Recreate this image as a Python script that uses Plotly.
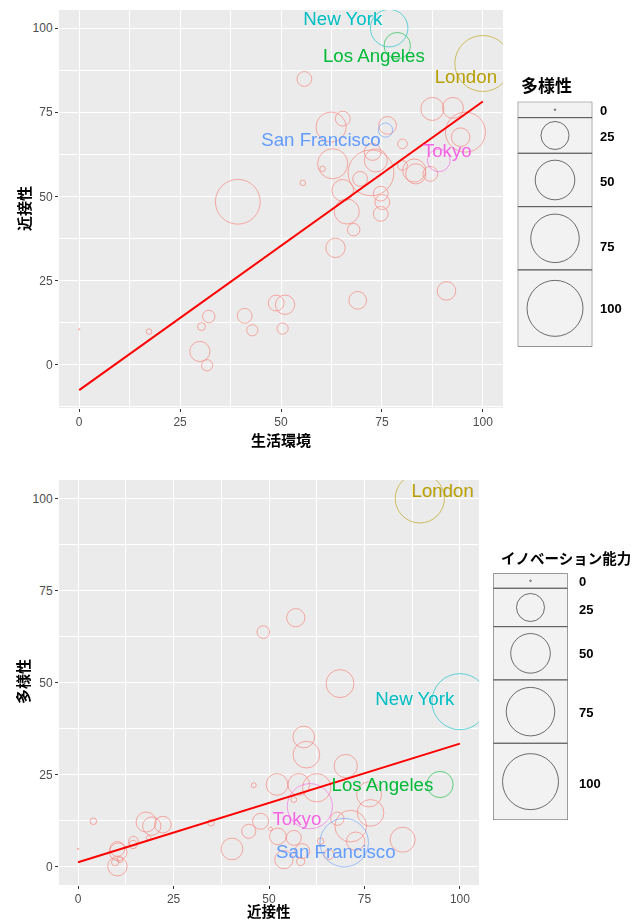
import plotly.graph_objects as go

W, H = 640, 921
PAGE_MARGIN = 8          # browser body margin around the plot div
FW, FH = W - PAGE_MARGIN, H - PAGE_MARGIN

# ---------------- data ----------------
cities = ["London", "Los Angeles", "New York", "San Francisco", "Tokyo"]
city_env = [100, 78.8, 76.8, 75.9, 89.1]        # 生活環境
city_prox = [89.5, 94.8, 100, 69.7, 60.7]       # 近接性
city_div = [100, 22.3, 44.8, 6.5, 16.4]         # 多様性
city_inn = [77, 22, 100, 75, 65]                # イノベーション能力

# other cities, top panel (生活環境 vs 近接性, size 多様性)
top_env = [0, 17.3, 32.1, 30.3, 29.9, 31.7, 41.0, 42.9, 48.8, 51.0, 50.4,
           63.5, 69.0, 91.0, 68.0, 66.3, 74.7, 75.1, 74.7, 39.3, 62.4,
           65.3, 76.4, 80.1, 87.5, 92.6, 94.5, 95.7, 62.8, 60.3, 55.4,
           72.7, 73.5, 72.3, 65.3, 69.6, 80.1, 83.0, 83.4, 87.0, 55.8]
top_prox = [10.5, 9.8, 14.3, 11.3, 3.9, -0.2, 14.5, 10.2, 18.3, 17.8, 10.7,
            34.7, 19.1, 21.9, 40.1, 45.5, 44.8, 48.3, 50.8, 48.4, 70.6,
            73.1, 71.1, 65.6, 76.0, 76.3, 67.6, 69.1, 59.7, 58.2, 54.0,
            63.2, 60.7, 57.0, 51.8, 55.2, 59.2, 57.7, 56.7, 56.7, 84.9]
top_div = [0, 1, 5, 2, 13, 4, 7, 4, 8, 12, 4,
           12, 10, 11, 5, 20, 7, 7, 7, 64, 29,
           7, 10, 3, 17, 14, 11, 51, 29, 1, 1,
           9, 17, 67, 15, 7, 3, 17, 13, 7, 7]

# other cities, bottom panel (近接性 vs 多様性, size イノベーション能力)
bot_prox = [0, 4.0, 10.3, 10.5, 10.3, 9.7, 11.0, 14.5, 14.4, 17.8, 19.3,
            22.2, 18.5, 34.8, 40.3, 44.7, 46.0, 68.6, 59.1, 59.8, 70.1,
            52.1, 57.8, 62.5, 56.5, 76.2, 76.6, 71.4, 67.9, 47.8, 50.4,
            52.3, 56.5, 58.7, 53.9, 58.3, 63.5, 72.7, 85.0, 65.7, 57.0, 48.5]
bot_div = [4.8, 12.3, 4.8, 4.0, 0.1, 1.2, 1.9, 6.9, 6.0, 12.1, 11.0,
           11.4, 7.8, 11.9, 4.8, 9.6, 22.1, 49.7, 35.2, 30.4, 27.3,
           22.3, 22.3, 21.4, 18.2, 19.6, 14.6, 11.0, 13.0, 12.3, 10.2,
           8.2, 7.8, 4.2, 1.9, 1.4, 6.9, 6.9, 7.3, 3.3, 67.6, 63.7]
bot_inn = [0, 1.4, 7, 10, 12, 1.7, 1.1, 3, 2.2, 12.8, 10.7,
           8.9, 0.7, 1.4, 15, 6.3, 0.8, 25, 15, 22.7, 17.3,
           15, 15, 25.6, 1.1, 20, 22.7, 32, 5.7, 8.2, 0.5,
           8.9, 7.2, 7.2, 10.7, 2.2, 1.4, 10.7, 20, 3.2, 10.7, 5.1]

# linear fits
top_fit_x = [0, 100]
top_fit_y = [-7.6, 78.2]
bot_fit_x = [0, 100]
bot_fit_y = [1.2, 33.4]

# label anchor positions (data coords)
top_label_x = [95.8, 73.0, 65.3, 59.9, 91.2]
top_label_y = [85.1, 91.2, 102.2, 66.4, 63.0]
bot_label_x = [95.5, 79.7, 88.2, 67.5, 57.3]
bot_label_y = [101.6, 21.7, 45.1, 3.7, 12.5]

legend_values = [0, 25, 50, 75, 100]
tick_vals = [0, 25, 50, 75, 100]
tick_text = ["0", "25", "50", "75", "100"]

# ---------------- styles ----------------
city_colors = ["#B79F00", "#00BA38", "#00BFC4", "#619CFF", "#F564E3"]
other_color = "#F8766D"
MAX_D = 56
SIZEREF = 2 * max(legend_values) / MAX_D ** 2
LAT = "Liberation Sans, Arial, sans-serif"
CJK = "Noto Sans CJK JP, sans-serif"


def fx(p):
    return (p - PAGE_MARGIN) / FW


def fy(p):
    return 1 - (p - PAGE_MARGIN) / FH


def sizes(vals):
    return [max(v, 0.02) for v in vals]


def bubble(x, y, s, color, xa, ya, op=0.85, lw=1.0):
    return go.Scatter(
        x=x, y=y, mode="markers", xaxis=xa, yaxis=ya, showlegend=False,
        hoverinfo="skip", opacity=op,
        marker=dict(size=sizes(s), sizemode="area", sizeref=SIZEREF, sizemin=0.7,
                    symbol="circle-open", color=color,
                    line=dict(width=lw, color=color)))


fig = go.Figure()

# ---- top panel ----
fig.add_trace(bubble(top_env, top_prox, top_div, other_color, "x", "y"))
for i, c in enumerate(cities):
    fig.add_trace(bubble([city_env[i]], [city_prox[i]], [city_div[i]], city_colors[i], "x", "y"))
fig.add_trace(go.Scatter(x=top_fit_x, y=top_fit_y, mode="lines", xaxis="x", yaxis="y",
                         line=dict(color="#FF0000", width=2), showlegend=False, hoverinfo="skip"))
fig.add_trace(go.Scatter(x=top_label_x, y=top_label_y, text=cities, mode="text",
                         xaxis="x", yaxis="y", textposition="middle center",
                         textfont=dict(family=LAT, size=18.7, color=city_colors),
                         showlegend=False, hoverinfo="skip"))

# ---- bottom panel ----
fig.add_trace(bubble(bot_prox, bot_div, bot_inn, other_color, "x2", "y2"))
for i, c in enumerate(cities):
    fig.add_trace(bubble([city_prox[i]], [city_div[i]], [city_inn[i]], city_colors[i], "x2", "y2"))
fig.add_trace(go.Scatter(x=bot_fit_x, y=bot_fit_y, mode="lines", xaxis="x2", yaxis="y2",
                         line=dict(color="#FF0000", width=2), showlegend=False, hoverinfo="skip"))
fig.add_trace(go.Scatter(x=bot_label_x, y=bot_label_y, text=cities, mode="text",
                         xaxis="x2", yaxis="y2", textposition="middle center",
                         textfont=dict(family=LAT, size=18.7, color=city_colors),
                         showlegend=False, hoverinfo="skip"))

# ---- size legends (pixel-unit hidden axes) ----
LEG1 = dict(x0=517.7, x1=592.3, rows=[101.7, 117.7, 153.3, 206.7, 270, 346.7],
            lab_x=598, lab_y=[110.5, 136.5, 181.5, 246, 308.3])
LEG2 = dict(x0=493.3, x1=567.7, rows=[573.3, 588.3, 626.7, 680, 743.3, 820],
            lab_x=576.7, lab_y=[581.5, 609.5, 653.3, 712.5, 783.3])

shapes = []
annotations = []
for leg, xa, ya in [(LEG1, "x3", "y3"), (LEG2, "x4", "y4")]:
    cx = (leg["x0"] + leg["x1"]) / 2
    rows = leg["rows"]
    cy = [(rows[k] + rows[k + 1]) / 2 for k in range(len(rows) - 1)]
    for k in range(len(rows) - 1):
        shapes.append(dict(type="rect", xref=xa, yref=ya, x0=leg["x0"], x1=leg["x1"],
                           y0=rows[k], y1=rows[k + 1], fillcolor="#F2F2F2",
                           line=dict(color="#555555", width=1), layer="below"))
    fig.add_trace(go.Scatter(
        x=[cx] * len(legend_values), y=cy, mode="markers", xaxis=xa, yaxis=ya,
        showlegend=False, hoverinfo="skip",
        marker=dict(size=sizes(legend_values), sizemode="area", sizeref=SIZEREF, sizemin=0.8,
                    symbol="circle-open", color="#333333", line=dict(width=1, color="#333333"))))
    for v, ly in zip(legend_values, leg["lab_y"]):
        annotations.append(dict(text=str(v), x=fx(leg["lab_x"]), y=fy(ly), xref="paper", yref="paper",
                                xanchor="left", yanchor="middle", showarrow=False,
                                font=dict(family=LAT, size=13, color="black", weight="bold")))

# panel backgrounds
for xa, ya in [("x", "y"), ("x2", "y2")]:
    shapes.append(dict(type="rect", xref=xa + " domain", yref=ya + " domain", x0=0, x1=1, y0=0, y1=1,
                       fillcolor="#EBEBEB", line=dict(width=0), layer="below"))


# titles
def title_ann(text, x, y, size, angle=0, anchor="center"):
    return dict(text=text, x=fx(x), y=fy(y), xref="paper", yref="paper", showarrow=False,
                xanchor=anchor, yanchor="middle", textangle=angle,
                font=dict(family=CJK, size=size, color="black", weight="bold"))


annotations += [
    title_ann("生活環境", 281, 439, 15),
    title_ann("近接性", 23, 209, 15, -90),
    title_ann("近接性", 269, 910.5, 14.5),
    title_ann("多様性", 22, 682, 15, -90),
    title_ann("多様性", 519, 85, 17, anchor="left"),
    title_ann("イノベーション能力", 499, 557, 14.5, anchor="left"),
]

axis_common = dict(tickmode="array", tickvals=tick_vals, ticktext=tick_text,
                   ticks="outside", ticklen=3, tickwidth=1, tickcolor="#333333",
                   tickfont=dict(family=LAT, size=12, color="#4D4D4D"),
                   showgrid=True, gridcolor="white", gridwidth=1.1,
                   zeroline=False, showline=False,
                   minor=dict(tick0=0, dtick=12.5, showgrid=True, gridcolor="white", gridwidth=0.55))

hidden = dict(visible=False, showgrid=False, zeroline=False, fixedrange=True)

fig.update_layout(
    width=FW, height=FH, margin=dict(l=0, r=0, t=0, b=0),
    paper_bgcolor="white", plot_bgcolor="rgba(0,0,0,0)", showlegend=False,
    xaxis=dict(domain=[fx(59), fx(503)], range=[-5, 105], anchor="y", **axis_common),
    yaxis=dict(domain=[fy(408), fy(10)], range=[-12.9, 105.4], anchor="x", **axis_common),
    xaxis2=dict(domain=[fx(59), fx(479)], range=[-5, 105], anchor="y2", **axis_common),
    yaxis2=dict(domain=[fy(885), fy(480)], range=[-5, 105], anchor="x2", **axis_common),
    xaxis3=dict(domain=[fx(LEG1["x0"]), fx(LEG1["x1"])], range=[LEG1["x0"], LEG1["x1"]], anchor="y3", **hidden),
    yaxis3=dict(domain=[fy(LEG1["rows"][-1]), fy(LEG1["rows"][0])],
                range=[LEG1["rows"][-1], LEG1["rows"][0]], anchor="x3", **hidden),
    xaxis4=dict(domain=[fx(LEG2["x0"]), fx(LEG2["x1"])], range=[LEG2["x0"], LEG2["x1"]], anchor="y4", **hidden),
    yaxis4=dict(domain=[fy(LEG2["rows"][-1]), fy(LEG2["rows"][0])],
                range=[LEG2["rows"][-1], LEG2["rows"][0]], anchor="x4", **hidden),
    shapes=shapes, annotations=annotations,
)

fig.write_html("out.html")
